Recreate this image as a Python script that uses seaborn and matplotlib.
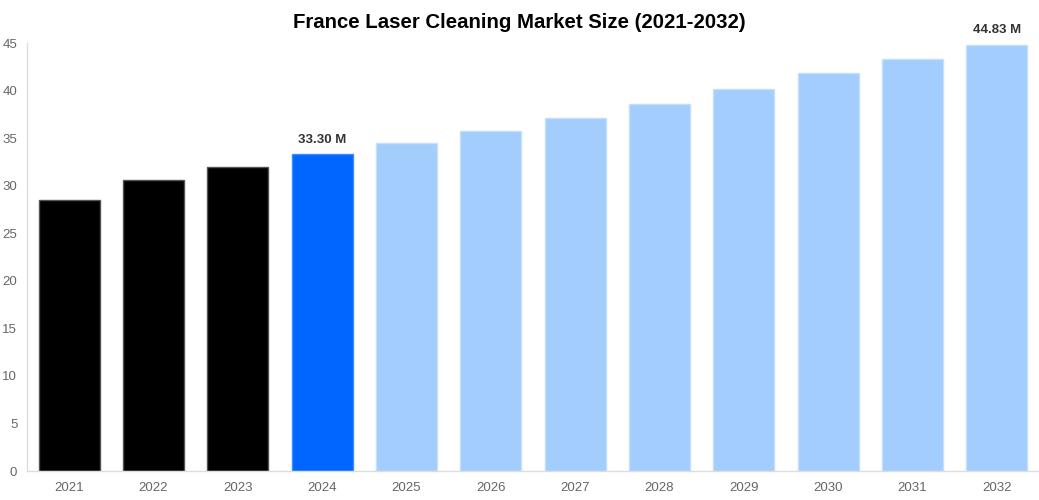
import seaborn as sns
import matplotlib.pyplot as plt
import pandas as pd

# France laser cleaning market size
years = ['2021', '2022', '2023', '2024', '2025', '2026', '2027', '2028', '2029', '2030', '2031', '2032']
market_size = [28.5, 30.6, 32.0, 33.30, 34.5, 35.8, 37.1, 38.6, 40.2, 41.8, 43.3, 44.83]
bar_colors = ['#000000'] * 3 + ['#0066ff'] + ['#a2cdfd'] * 8
edge_colors = ['#555555'] * 3 + ['#3d8bff'] + ['#c4e0fe'] * 8
labelled = {'2024': '33.30 M', '2032': '44.83 M'}

sns.set_style('white')
plt.rcParams['font.family'] = ['Liberation Sans', 'DejaVu Sans']

df = pd.DataFrame({'year': years, 'size': market_size})

fig = plt.figure(figsize=(10.39, 5.0), dpi=100)
ax = fig.add_axes([0.026, 0.058, 0.974, 0.856])
sns.barplot(data=df, x='year', y='size', hue='year', palette=bar_colors,
            legend=False, width=0.72, saturation=1, ax=ax)
for patch, ec in zip(ax.patches, edge_colors):
    patch.set_edgecolor(ec)
    patch.set_linewidth(1)

for i, (y, v) in enumerate(zip(years, market_size)):
    if y in labelled:
        ax.text(i, v + 0.9, labelled[y], ha='center', va='bottom',
                fontsize=9.5, fontweight='bold', color='#333333')

ax.set_ylim(0, 45)
ax.set_yticks(range(0, 46, 5))
ax.set_xlim(-0.5, len(years) - 0.5)
ax.set_xlabel('')
ax.set_ylabel('')
ax.tick_params(axis='both', labelsize=9.5, colors='#666666', length=0)
ax.tick_params(axis='y', pad=7)
ax.tick_params(axis='x', pad=8)
for s in ['top', 'right']:
    ax.spines[s].set_visible(False)
for s in ['left', 'bottom']:
    ax.spines[s].set_color('#dddddd')
    ax.spines[s].set_linewidth(1)

fig.suptitle('France Laser Cleaning Market Size (2021-2032)', fontsize=14.7,
             fontweight='bold', color='black', x=0.5, y=0.975)

fig.savefig('out.png', dpi=100)
